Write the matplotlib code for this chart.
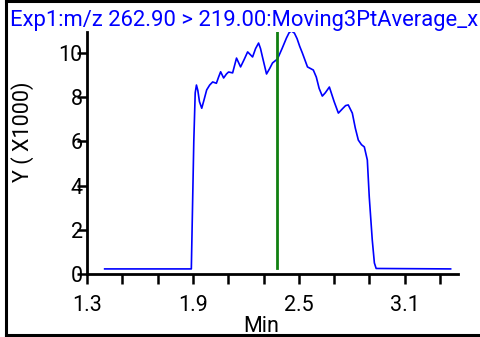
import matplotlib
matplotlib.use("Agg")
import matplotlib.pyplot as plt
from matplotlib.lines import Line2D

plt.rcParams['font.family'] = ['Roboto', 'DejaVu Sans']

# trace (min, intensity x1000)
times = [1.40, 1.891, 1.905, 1.913, 1.920, 1.928, 1.937, 1.950, 1.962, 1.978, 1.995, 2.012, 2.033,
         2.045, 2.057, 2.074, 2.090, 2.102, 2.125, 2.147, 2.170, 2.190, 2.210, 2.238,
         2.255, 2.272, 2.283, 2.294, 2.317, 2.335, 2.351, 2.379, 2.405, 2.430, 2.445,
         2.458, 2.475, 2.490, 2.505, 2.520, 2.549, 2.582, 2.599, 2.615, 2.633, 2.650,
         2.673, 2.700, 2.724, 2.750, 2.765, 2.780, 2.803, 2.820, 2.837, 2.855, 2.871,
         2.888, 2.899, 2.916, 2.928, 2.938, 3.36]
intensity = [0.23, 0.23, 6.0, 8.2, 8.55, 8.3, 7.8, 7.5, 7.85, 8.33, 8.55, 8.69, 8.63,
             8.9, 9.15, 8.87, 9.05, 9.14, 9.1, 9.77, 9.37, 9.7, 10.05, 9.82,
             10.2, 10.45, 10.2, 9.82, 9.05, 9.3, 9.55, 9.73, 10.2, 10.68, 10.92,
             11.0, 10.9, 10.65, 10.3, 10.0, 9.37, 9.23, 8.91, 8.4, 8.05, 8.2,
             8.46, 7.8, 7.28, 7.5, 7.62, 7.65, 7.28, 6.6, 6.06, 5.85, 5.75,
             5.16, 3.48, 1.54, 0.5, 0.25, 0.23]

marker_time = 2.379
marker_range = [0.27, 11.5]

x_ticks = [1.3, 1.9, 2.5, 3.1]
x_minor = [1.5, 1.7, 2.1, 2.3, 2.7, 2.9, 3.3]
y_ticks = [0, 2, 4, 6, 8, 10]

fs = 15.5

fig = plt.figure(figsize=(4.81, 3.37), dpi=100)
ax = fig.add_axes([87 / 481, 1 - 274 / 337, 370.7 / 481, 242 / 337])

ax.plot(times, intensity, color="#0000ff", lw=1.2)
ax.plot([marker_time, marker_time], marker_range, color="#108010", lw=2)

ax.set_xlim(1.3, 3.4)
ax.set_ylim(0, 10.95)

for s in ["top", "right"]:
    ax.spines[s].set_visible(False)
for s in ["left", "bottom"]:
    ax.spines[s].set_linewidth(2)

ax.set_xticks(x_ticks)
ax.set_xticks(x_minor, minor=True)
ax.set_yticks(y_ticks)
ax.tick_params(axis="x", which="both", direction="out", length=7, width=1.8,
               labelsize=fs, pad=8)
ax.tick_params(axis="y", direction="out", length=7, width=1.8, labelsize=fs, pad=-4)

ax.set_xlabel("Min", fontsize=fs)
ax.xaxis.set_label_coords((261 - 87) / 370.7, -(316 - 274) / 242)
ax.xaxis.label.set_va("top")
ax.set_ylabel("Y ( X1000)", fontsize=fs)
ax.yaxis.set_label_coords(-(87 - 34) / 370.7, (274 - 131.5) / 242)

fig.text(10 / 481, 1 - 26 / 337, "Exp1:m/z 262.90 > 219.00:Moving3PtAverage_x",
         color="#0000ff", fontsize=15.8, ha="left", va="baseline")

# outer frame (left, top, bottom)
fig.add_artist(Line2D([6 / 481, 6 / 481], [1 - 335 / 337, 1 - 1 / 337],
                      transform=fig.transFigure, color="black", lw=2.2))
fig.add_artist(Line2D([6 / 481, 1.0], [1 - 1 / 337, 1 - 1 / 337],
                      transform=fig.transFigure, color="black", lw=2.2))
fig.add_artist(Line2D([6 / 481, 1.0], [1 - 335 / 337, 1 - 335 / 337],
                      transform=fig.transFigure, color="black", lw=2.2))

fig.savefig("out.png", dpi=100)
